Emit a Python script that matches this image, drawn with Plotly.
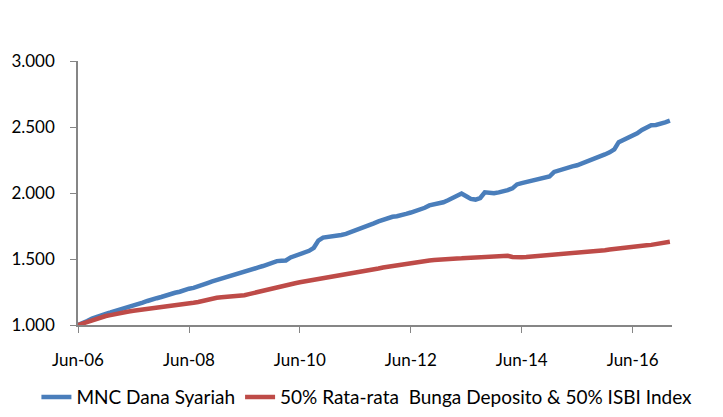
import plotly.graph_objects as go
import pandas as pd

start_month = "2006-06-01"
n_months = 129

mnc_dana_syariah = [
    1.000, 1.012, 1.030, 1.048, 1.062, 1.076, 1.085, 1.095, 1.105, 1.117,
    1.124, 1.132, 1.148, 1.160, 1.170, 1.182, 1.195, 1.203, 1.212, 1.226,
    1.236, 1.244, 1.252, 1.265, 1.275, 1.281, 1.295, 1.312, 1.318, 1.330,
    1.340, 1.348, 1.358, 1.366, 1.378, 1.392, 1.404, 1.414, 1.425, 1.436,
    1.447, 1.460, 1.470, 1.484, 1.487, 1.489, 1.512, 1.524, 1.536, 1.550,
    1.562, 1.585, 1.640, 1.662, 1.666, 1.669, 1.675, 1.682, 1.690, 1.702,
    1.714, 1.725, 1.738, 1.755, 1.770, 1.785, 1.797, 1.810, 1.820, 1.824,
    1.830, 1.842, 1.852, 1.862, 1.870, 1.888, 1.906, 1.914, 1.918, 1.930,
    1.945, 1.962, 1.980, 1.996, 1.975, 1.955, 1.950, 1.962, 2.005, 2.000,
    1.998, 2.005, 2.010, 2.022, 2.035, 2.065, 2.075, 2.082, 2.090, 2.098,
    2.105, 2.112, 2.125, 2.160, 2.172, 2.185, 2.195, 2.202, 2.210, 2.222,
    2.238, 2.248, 2.262, 2.276, 2.292, 2.308, 2.330, 2.385, 2.402, 2.418,
    2.435, 2.452, 2.478, 2.500, 2.513, 2.515, 2.522, 2.535, 2.548,
]

benchmark = [
    1.000, 1.012, 1.025, 1.038, 1.052, 1.062, 1.068, 1.075, 1.084, 1.092,
    1.097, 1.102, 1.108, 1.112, 1.116, 1.122, 1.128, 1.134, 1.140, 1.144,
    1.148, 1.152, 1.156, 1.160, 1.163, 1.168, 1.174, 1.182, 1.196, 1.203,
    1.206, 1.210, 1.212, 1.216, 1.220, 1.222, 1.226, 1.234, 1.243, 1.252,
    1.262, 1.272, 1.280, 1.287, 1.293, 1.300, 1.308, 1.316, 1.324, 1.330,
    1.334, 1.338, 1.342, 1.350, 1.358, 1.363, 1.368, 1.376, 1.382, 1.388,
    1.396, 1.402, 1.408, 1.414, 1.420, 1.428, 1.436, 1.442, 1.448, 1.455,
    1.460, 1.466, 1.470, 1.476, 1.480, 1.484, 1.488, 1.492, 1.496, 1.498,
    1.500, 1.502, 1.504, 1.505, 1.507, 1.509, 1.511, 1.512, 1.514, 1.515,
    1.516, 1.517, 1.520, 1.524, 1.515, 1.512, 1.513, 1.515, 1.518, 1.522,
    1.525, 1.526, 1.526, 1.527, 1.532, 1.538, 1.542, 1.545, 1.548, 1.551,
    1.553, 1.556, 1.560, 1.563, 1.567, 1.572, 1.577, 1.582, 1.585, 1.588,
    1.592, 1.596, 1.600, 1.604, 1.607, 1.611, 1.616, 1.622, 1.630,
]

x_tick_dates = ["2006-06-01", "2008-06-01", "2010-06-01", "2012-06-01", "2014-06-01", "2016-06-01"]
x_tick_labels = ["Jun-06", "Jun-08", "Jun-10", "Jun-12", "Jun-14", "Jun-16"]
y_tick_values = [1.0, 1.5, 2.0, 2.5, 3.0]
y_tick_labels = ["1.000", "1.500", "2.000", "2.500", "3.000"]

series_names = ["MNC Dana Syariah", "50% Rata-rata  Bunga Deposito & 50% ISBI Index"]

dates = pd.date_range(start_month, periods=n_months, freq="MS")

FONT = "Lato"
AXIS_COLOR = "#868686"

fig = go.Figure()
fig.add_trace(go.Scatter(x=dates, y=mnc_dana_syariah, mode="lines", name=series_names[0],
                         line=dict(color="#4A7EBB", width=4.5)))
fig.add_trace(go.Scatter(x=dates, y=benchmark, mode="lines", name=series_names[1],
                         line=dict(color="#BE4B48", width=4.5)))

# page body has an 8px default margin, so the figure is offset by 8px
fig.update_layout(
    width=715, height=409,
    margin=dict(l=70, r=51, t=53, b=92, autoexpand=False),
    paper_bgcolor="white", plot_bgcolor="white",
    font=dict(family=FONT, size=17, color="#000000"),
    showlegend=True,
    legend=dict(orientation="h", x=-0.07, xanchor="left", y=-0.273, yanchor="middle",
                font=dict(family=FONT, size=19, color="#000000"),
                bgcolor="rgba(0,0,0,0)", itemwidth=30),
)
fig.update_xaxes(
    type="date", range=["2006-06-01", "2017-02-15"],
    tickvals=x_tick_dates, ticktext=x_tick_labels,
    showgrid=False, zeroline=False, automargin=False,
    showline=True, linecolor=AXIS_COLOR, linewidth=1.5,
    ticks="outside", ticklen=6, tickcolor=AXIS_COLOR, tickwidth=1.3,
    ticklabelstandoff=13,
    tickfont=dict(family=FONT, size=17, color="#000000"),
)
fig.update_yaxes(
    range=[1.0, 3.0],
    tickvals=y_tick_values, ticktext=y_tick_labels,
    showgrid=False, zeroline=False, automargin=False,
    showline=True, linecolor=AXIS_COLOR, linewidth=1.5,
    ticks="outside", ticklen=6, tickcolor=AXIS_COLOR, tickwidth=1.3,
    ticklabelstandoff=12,
    tickfont=dict(family=FONT, size=17, color="#000000"),
)

fig.write_html("out.html")
